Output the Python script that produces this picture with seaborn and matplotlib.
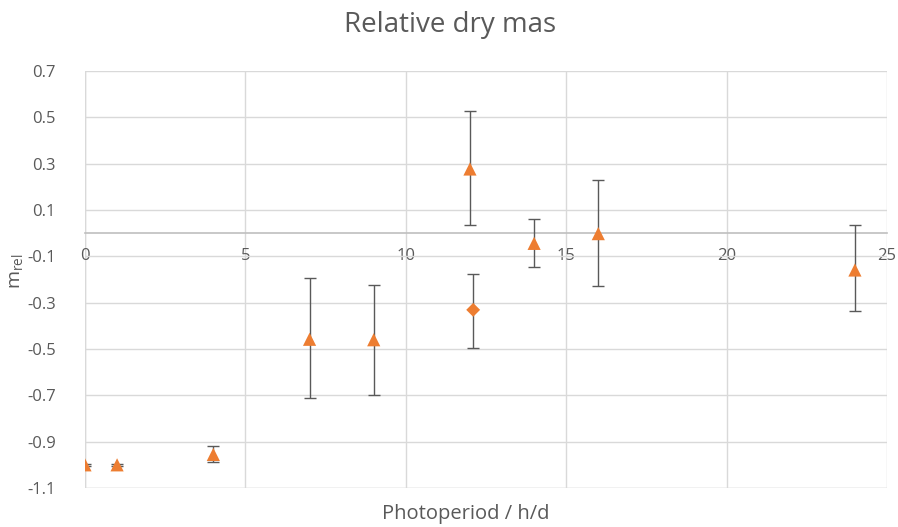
import matplotlib
matplotlib.use("Agg")
import matplotlib.pyplot as plt
import seaborn as sns
import pandas as pd
import numpy as np

# Data
tri_x = [0, 1, 4, 7, 9, 12, 14, 16, 24]
tri_y = [-1.0, -1.0, -0.955, -0.458, -0.46, 0.277, -0.044, -0.002, -0.159]
tri_lo = [-1.005, -1.005, -0.988, -0.712, -0.698, 0.034, -0.146, -0.228, -0.336]
tri_hi = [-0.995, -0.995, -0.918, -0.194, -0.222, 0.527, 0.063, 0.231, 0.035]

dia_x = [12.1]
dia_y = [-0.331]
dia_lo = [-0.494]
dia_hi = [-0.175]

x_ticks = [0, 5, 10, 15, 20, 25]
y_ticks = [0.7, 0.5, 0.3, 0.1, -0.1, -0.3, -0.5, -0.7, -0.9, -1.1]
y_tick_labels = ["0.7", "0.5", "0.3", "0.1", "-0.1", "-0.3", "-0.5", "-0.7", "-0.9", "-1.1"]

sns.set_theme(style="white")
plt.rcParams['font.family'] = ['Open Sans', 'DejaVu Sans']

orange = "#ED7D31"
grid_c = "#D9D9D9"
text_c = "#595959"
err_c = "#595959"

df = pd.DataFrame({
    "x": tri_x + dia_x,
    "y": tri_y + dia_y,
    "series": ["tri"] * len(tri_x) + ["dia"] * len(dia_x),
})

fig = plt.figure(figsize=(8.98, 5.27), dpi=100)
ax = fig.add_axes([85 / 898, 1 - 488 / 527, (887 - 85) / 898, (488 - 71) / 527])

# error bars
for xs, ys, lo, hi in [(tri_x, tri_y, tri_lo, tri_hi), (dia_x, dia_y, dia_lo, dia_hi)]:
    ys_a = np.array(ys)
    yerr = [ys_a - np.array(lo), np.array(hi) - ys_a]
    ax.errorbar(xs, ys, yerr=yerr, fmt="none", ecolor=err_c, elinewidth=1.0,
                capsize=4, capthick=1.0, zorder=3)

sns.scatterplot(data=df, x="x", y="y", style="series", size="series",
                markers={"tri": "^", "dia": "D"}, sizes={"tri": 90, "dia": 50},
                color=orange, edgecolor="none", legend=False, ax=ax, zorder=4)

ax.set_xlim(0, 25)
ax.set_ylim(-1.1, 0.7)
ax.set_xticks(x_ticks)
ax.set_yticks(y_ticks)
ax.set_yticklabels(y_tick_labels)
ax.grid(True, color=grid_c, linewidth=1.0)
ax.set_axisbelow(True)
for s in ["top", "right", "left"]:
    ax.spines[s].set_visible(False)
ax.spines["bottom"].set_position(("data", 0))
ax.spines["bottom"].set_color("#BFBFBF")
ax.spines["bottom"].set_linewidth(1.2)
ax.axhline(-1.1, color=grid_c, linewidth=1.0, zorder=0)
ax.axvline(0, color=grid_c, linewidth=1.0, zorder=0)

ax.tick_params(axis="x", length=0, pad=11, labelsize=12, labelcolor=text_c)
ax.tick_params(axis="y", length=0, pad=21, labelsize=12, labelcolor=text_c)
ax.set_xlabel("")
ax.set_ylabel("")

fig.text(450 / 898, 1 - 25 / 527, "Relative dry mas", ha="center", va="center",
         fontsize=20, color=text_c)
fig.text(466 / 898, 1 - 514 / 527, "Photoperiod / h/d", ha="center", va="center",
         fontsize=14.5, color=text_c)
fig.text(17 / 898, 1 - 271 / 527, r"m$_{\mathregular{rel}}$", ha="center", va="center",
         rotation=90, fontsize=14, color=text_c)

fig.savefig("out.png", dpi=100, facecolor="white")
